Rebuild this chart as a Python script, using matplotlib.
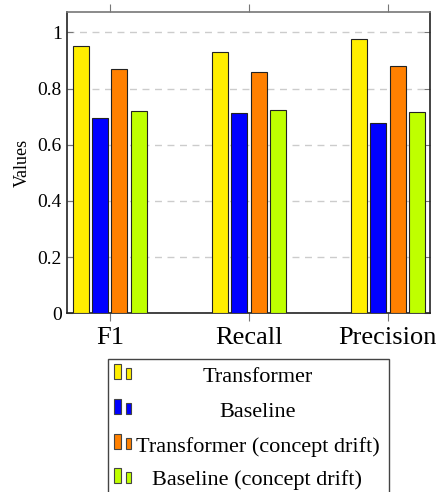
import numpy as np
import matplotlib
matplotlib.use("Agg")
import matplotlib.pyplot as plt
from matplotlib.patches import Rectangle
from matplotlib.ticker import FuncFormatter

plt.rcParams['font.family'] = ['Liberation Serif', 'DejaVu Serif']

metrics = ["F1", "Recall", "Precision"]
series = ["Transformer", "Baseline", "Transformer (concept drift)", "Baseline (concept drift)"]
transformer = [0.951, 0.930, 0.976]
baseline = [0.695, 0.712, 0.679]
transformer_drift = [0.870, 0.861, 0.881]
baseline_drift = [0.721, 0.724, 0.716]
values = [transformer, baseline, transformer_drift, baseline_drift]
colors = ["#ffee00", "#0000ff", "#ff8000", "#bfff00"]

W, H = 439, 492
fig = plt.figure(figsize=(W / 100, H / 100), dpi=100)

def fx(px):
    return px / W

def fy(py):
    return 1 - py / H

ax = fig.add_axes([fx(67.3), fy(313.3), fx(430.3) - fx(67.3), fy(12) - fy(313.3)])

x = np.arange(len(metrics))
width = 0.115
pitch = 0.14
offsets = [-1.5 * pitch, -0.5 * pitch, 0.5 * pitch, 1.5 * pitch]
for vals, col, off in zip(values, colors, offsets):
    ax.bar(x + off, vals, width, color=col, edgecolor="#222222", linewidth=0.8, zorder=3)

ax.set_xlim(-0.305, 2.305)
ax.set_ylim(0, 1.073)
ax.set_yticks([0, 0.2, 0.4, 0.6, 0.8, 1.0])
ax.yaxis.set_major_formatter(FuncFormatter(lambda v, p: "%g" % v))
ax.set_xticks(x)
ax.set_xticklabels(metrics, fontsize=19)
ax.tick_params(axis="y", labelsize=14, direction="in", length=4, width=0.8,
               color="#777777", right=True, pad=4)
ax.tick_params(axis="x", direction="out", length=6, width=0.8, color="#777777",
               top=True, pad=4)
ax.grid(axis="y", linestyle=(0, (5, 4)), color="#cccccc", linewidth=1, zorder=0)
ax.set_ylabel("Values", fontsize=13, labelpad=5)

for side in ["left", "bottom", "right"]:
    ax.spines[side].set_color("#222222")
    ax.spines[side].set_linewidth(1.2)
ax.spines["top"].set_color("#777777")
ax.spines["top"].set_linewidth(1.2)

# legend drawn by hand: paired bar icons, centred labels
fig.patches.append(Rectangle((fx(108), fy(500)), fx(389) - fx(108), fy(359) - fy(500),
                             transform=fig.transFigure, facecolor="white",
                             edgecolor="#444444", linewidth=1.0))
baselines = [381.7, 416.7, 451.7, 485.5]
for name, col, b in zip(series, colors, baselines):
    bottom = b - 2.5
    fig.patches.append(Rectangle((fx(114.3), fy(bottom)), fx(6.4), fy(0) - fy(15),
                                 transform=fig.transFigure, facecolor=col,
                                 edgecolor="#444444", linewidth=0.8))
    fig.patches.append(Rectangle((fx(125.7), fy(bottom)), fx(5.6), fy(0) - fy(11),
                                 transform=fig.transFigure, facecolor=col,
                                 edgecolor="#444444", linewidth=0.8))
    fig.text(fx(257.5), fy(b), name, fontsize=16, ha="center", va="baseline")

fig.savefig("out.png", dpi=100)
